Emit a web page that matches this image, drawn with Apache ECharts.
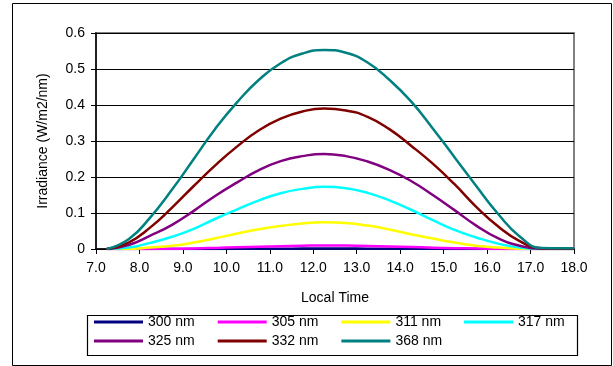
<!DOCTYPE html>
<html><head><meta charset="utf-8">
<script src="https://cdn.jsdelivr.net/npm/echarts@6/dist/echarts.min.js"></script>
<style>html,body{margin:0;padding:0;background:#fff}#c{width:613px;height:366px}</style>
</head><body><div id="c"></div>
<script>
const times = [7.25,7.75,8.25,8.75,9.25,9.75,10.25,10.75,11.25,11.75,12.25,12.75,13.25,13.75,14.25,14.75,15.25,15.75,16.25,16.75,17.25,17.75,18.0];
const s300 = [0,0,0,0,0.0001,0.0002,0.0004,0.0006,0.0009,0.0011,0.0012,0.0011,0.001,0.0008,0.0006,0.0004,0.0002,0.0001,0,0,0,0,0];
const s305 = [0,0,0.0003,0.0008,0.0015,0.003,0.0048,0.0063,0.0078,0.009,0.0098,0.0094,0.0083,0.0068,0.0053,0.0038,0.0024,0.0014,0.0006,0.0001,0,0,0];
const s311 = [0,0,0.004,0.009,0.018,0.03,0.043,0.055,0.064,0.071,0.074,0.072,0.065,0.054,0.041,0.029,0.018,0.009,0.004,0.001,0,0,0];
const s317 = [0,0.004,0.017,0.034,0.056,0.084,0.11,0.135,0.155,0.167,0.173,0.169,0.156,0.135,0.109,0.08,0.053,0.032,0.015,0.004,0,0,0];
const s325 = [0,0.011,0.037,0.067,0.106,0.148,0.185,0.219,0.244,0.258,0.264,0.258,0.243,0.22,0.189,0.15,0.108,0.065,0.03,0.009,0.001,0.001,0.001];
const s332 = [0,0.018,0.06,0.115,0.175,0.233,0.285,0.33,0.362,0.382,0.39,0.385,0.367,0.333,0.287,0.237,0.18,0.117,0.063,0.022,0.002,0.001,0.001];
const s368 = [0,0.027,0.088,0.165,0.25,0.335,0.408,0.47,0.516,0.543,0.553,0.545,0.518,0.47,0.41,0.335,0.255,0.175,0.098,0.035,0.003,0.002,0.002];
const names = ['300 nm','305 nm','311 nm','317 nm','325 nm','332 nm','368 nm'];
const colors = ['#000080','#FF00FF','#FFFF00','#00FFFF','#800080','#800000','#008080'];
const seriesData = [s300,s305,s311,s317,s325,s332,s368];
const xTitle = 'Local Time';
const yTitle = 'Irradiance (W/m2/nm)';

const FONT = 'Liberation Sans, Arial, sans-serif';
const chart = echarts.init(document.getElementById('c'), null, {renderer:'canvas'});
const series = seriesData.map((d,i)=>({
  name: names[i], type:'line', smooth:0.5, showSymbol:false, symbol:'none',
  data: d.map((v,j)=>[times[j], v]),
  lineStyle:{color:colors[i], width:2.5}, itemStyle:{color:colors[i]},
  z: 2+i, animation:false
}));
const legendCommon = {
  orient:'horizontal', left:94, itemWidth:49, itemHeight:3, itemGap:23,
  icon:'rect', textStyle:{fontFamily:FONT, fontSize:14, color:'#000'},
  selectedMode:false, padding:0
};
chart.setOption({
  animation:false,
  backgroundColor:'#fff',
  grid:{left:96, right:39, top:33, bottom:117, show:true, borderColor:'#808080', borderWidth:2, backgroundColor:'transparent'},
  xAxis:{type:'value', min:7, max:18, interval:1,
    name:xTitle, nameLocation:'middle', nameGap:42,
    nameTextStyle:{fontFamily:FONT, fontSize:14, color:'#000'},
    axisLine:{show:true, onZero:false, lineStyle:{color:'#000', width:1.5}},
    axisTick:{show:true, length:5, lineStyle:{color:'#000'}},
    axisLabel:{fontFamily:FONT, fontSize:14, color:'#000', margin:12, formatter:v=>v.toFixed(1)},
    splitLine:{show:false}},
  yAxis:{type:'value', min:0, max:0.6, interval:0.1,
    name:yTitle, nameLocation:'middle', nameGap:46, nameRotate:90,
    nameTextStyle:{fontFamily:FONT, fontSize:14, color:'#000'},
    axisLine:{show:true, lineStyle:{color:'#000', width:1.5}},
    axisTick:{show:true, length:5, lineStyle:{color:'#000'}},
    axisLabel:{fontFamily:FONT, fontSize:14, color:'#000', margin:11, formatter:v=>v===0?'0':(+v.toFixed(1)).toString()},
    splitLine:{show:true, lineStyle:{color:'#000', width:1}}},
  legend:[
    Object.assign({}, legendCommon, {top:315, data:names.slice(0,4)}),
    Object.assign({}, legendCommon, {top:334, data:names.slice(4)})
  ],
  graphic:[
    {type:'rect', left:10, top:1, shape:{width:599, height:362}, style:{fill:null, stroke:'#000', lineWidth:1}, silent:true},
    {type:'rect', left:85, top:313, shape:{width:490, height:40}, style:{fill:null, stroke:'#000', lineWidth:1.2}, silent:true}
  ],
  series: series
});
</script></body></html>
